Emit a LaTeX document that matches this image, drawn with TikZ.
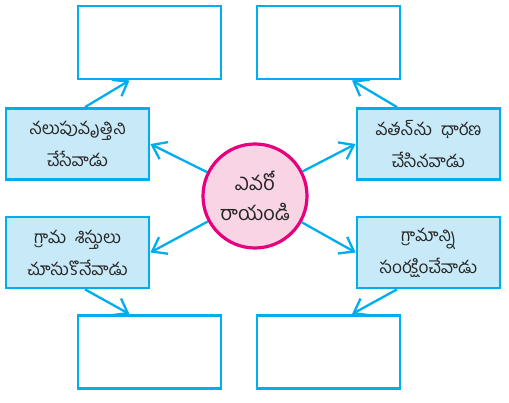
\documentclass[tikz,border=0pt]{standalone}
\usepackage{fontspec}
\newfontfamily\telugu[Script=Telugu]{Hind Guntur}
\usetikzlibrary{arrows.meta}
\definecolor{boxblue}{RGB}{0,174,239}
\definecolor{boxfill}{RGB}{200,234,248}
\definecolor{circfill}{RGB}{249,212,228}
\definecolor{circline}{RGB}{230,0,126}
\begin{document}
\begin{tikzpicture}[x=1pt, y=-1pt,
    answer/.style={draw=boxblue, line width=2.8pt, fill=white, minimum width=143pt, minimum height=73pt, inner sep=0pt},
    clue/.style={draw=boxblue, line width=2.8pt, fill=boxfill, minimum width=143pt, minimum height=71pt, inner sep=0pt, align=center, text=black!85, font=\telugu\fontsize{17.3}{32}\selectfont},
    link/.style={boxblue, line width=2.3pt, -{Straight Barb[length=13pt,width=19pt]}}]
        \useasboundingbox (0,0) rectangle (509,403);

        % empty boxes for the answers
        \node[answer] (ansTL) at (149.5,42.5) {};
        \node[answer] (ansTR) at (328.5,42.5) {};
        \node[answer] (ansBL) at (149.5,352) {};
        \node[answer] (ansBR) at (328.5,352) {};

        % clues
        \node[clue] (clueTL) at (77.5,144) {నలుపువృత్తిని\\చేసేవాడు};
        \node[clue] (clueTR) at (428.5,144) {వతన్‌ను\enspace ధారణ\\చేసినవాడు};
        \node[clue] (clueBL) at (77.5,252.5) {గ్రామ\enspace శిస్తులు\\చూసుకొనేవాడు};
        \node[clue] (clueBR) at (428.5,252.5) {గ్రామాన్ని\\సంరక్షించేవాడు};

        \node[circle, draw=circline, fill=circfill, line width=3.2pt, minimum size=104pt, inner sep=0pt, align=center, text=black!85, font=\telugu\fontsize{20}{30}\selectfont] (who) at (255,196) {ఎవరో\\రాయండి};

        \draw[link] (who) -- (clueTL.east);
        \draw[link] (who) -- (clueBL.east);
        \draw[link] (who) -- (clueTR.west);
        \draw[link] (who) -- (clueBR.west);

        \draw[link] ([xshift=7.5pt]clueTL.north) -- ([xshift=-20pt]ansTL.south);
        \draw[link] ([xshift=-31.5pt]clueTR.north) -- ([xshift=23.5pt]ansTR.south);
        \draw[link] ([xshift=7.5pt]clueBL.south) -- ([xshift=-20pt]ansBL.north);
        \draw[link] ([xshift=-31.5pt]clueBR.south) -- ([xshift=23.5pt]ansBR.north);
\end{tikzpicture}
\end{document}
